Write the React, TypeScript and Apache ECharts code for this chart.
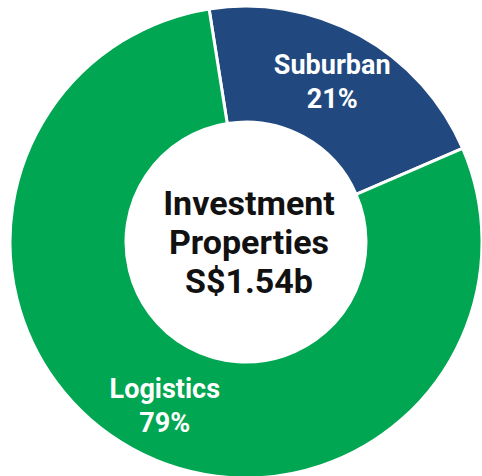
import React, { useEffect, useRef } from "react";
import * as echarts from "echarts";

const categories = ["Suburban", "Logistics"];
const shares = [21, 79];
const colors = ["#21497F", "#00A651"];
const labelOffsets = [[-1, -1], [6, 5]];
const centerLines = ["Investment", "Properties", "S$1.54b"];

export default function App() {
  const ref = useRef<HTMLDivElement>(null);
  useEffect(() => {
    document.body.style.margin = "0";
    const chart = echarts.init(ref.current!, null, { renderer: "svg" });
    chart.setOption({
      animation: false,
      backgroundColor: "#ffffff",
      graphic: [
        {
          type: "text",
          x: 249,
          y: 242,
          style: {
            text: centerLines.join("\n"),
            x: 0,
            y: 0,
            textAlign: "center",
            textVerticalAlign: "middle",
            font: "bold 34px Roboto, sans-serif",
            lineHeight: 39,
            fill: "#111111",
          },
        },
      ],
      series: [
        {
          type: "pie",
          center: [246, 242],
          radius: [120, 236],
          startAngle: 99,
          clockwise: true,
          avoidLabelOverlap: false,
          itemStyle: { borderColor: "#ffffff", borderWidth: 3 },
          label: {
            show: true,
            position: "inside",
            formatter: "{b}\n{c}%",
            color: "#ffffff",
            fontFamily: "Roboto, sans-serif",
            fontWeight: "bold",
            fontSize: 27,
            lineHeight: 34,
          },
          labelLine: { show: false },
          emphasis: { disabled: true },
          data: categories.map((name, i) => ({
            name,
            value: shares[i],
            itemStyle: { color: colors[i] },
            label: { offset: labelOffsets[i] },
          })),
        },
      ],
    });
    return () => chart.dispose();
  }, []);
  return (
    <div
      ref={ref}
      style={{ position: "fixed", left: 0, top: 0, width: 482, height: 476 }}
    />
  );
}
